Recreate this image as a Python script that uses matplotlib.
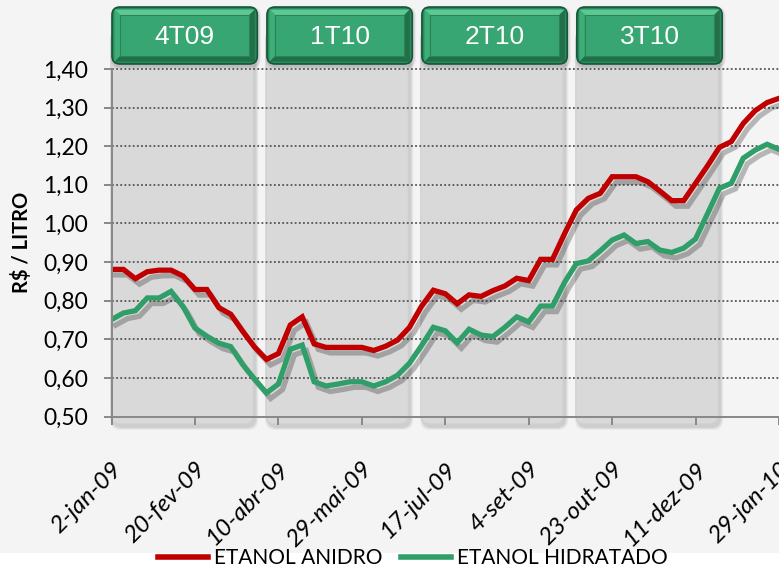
import matplotlib.pyplot as plt
import matplotlib.patheffects as pe
from matplotlib.patches import FancyBboxPatch, Polygon
from matplotlib.transforms import IdentityTransform, ScaledTranslation
from matplotlib.lines import Line2D
import numpy as np

plt.rcParams['font.family'] = ['Lato', 'DejaVu Sans']

# weekly prices, 2-jan-09 .. 29-jan-10 (R$/litro)
anidro = [0.881, 0.881, 0.857, 0.875, 0.879, 0.879, 0.864, 0.829, 0.829, 0.782,
          0.765, 0.721, 0.680, 0.648, 0.663, 0.737, 0.758, 0.688, 0.679, 0.679,
          0.679, 0.679, 0.671, 0.682, 0.698, 0.731, 0.785, 0.827, 0.818, 0.792,
          0.815, 0.811, 0.826, 0.838, 0.858, 0.852, 0.907, 0.907, 0.973, 1.035,
          1.065, 1.078, 1.121, 1.121, 1.121, 1.108, 1.084, 1.059, 1.059, 1.104,
          1.149, 1.197, 1.212, 1.259, 1.292, 1.313, 1.324]
hidratado = [0.751, 0.768, 0.774, 0.807, 0.807, 0.824, 0.785, 0.729, 0.708, 0.690,
             0.681, 0.635, 0.597, 0.561, 0.584, 0.674, 0.685, 0.590, 0.579, 0.584,
             0.590, 0.590, 0.579, 0.590, 0.607, 0.638, 0.683, 0.731, 0.722, 0.691,
             0.726, 0.711, 0.707, 0.731, 0.758, 0.745, 0.786, 0.786, 0.847, 0.896,
             0.903, 0.929, 0.957, 0.970, 0.948, 0.953, 0.931, 0.925, 0.936, 0.960,
             1.025, 1.091, 1.104, 1.169, 1.190, 1.205, 1.192]
tick_labels = ['2-jan-09', '20-fev-09', '10-abr-09', '29-mai-09', '17-jul-09',
               '4-set-09', '23-out-09', '11-dez-09', '29-jan-10']
quarters = ['4T09', '1T10', '2T10', '3T10']

W, H = 779, 576
RED = '#c00000'
GREEN = '#2f9e68'

fig = plt.figure(figsize=(W / 100, H / 100), dpi=100)
fig.patch.set_facecolor('white')
fig.add_artist(plt.Rectangle((0, 23 / H), 1, 1, transform=fig.transFigure,
                             fc='#f4f4f4', ec='none', zorder=-20))

ax = fig.add_axes([111.5 / W, 1 - 416.5 / H, (W - 111.5) / W, (416.5 - 69) / H])
ax.set_facecolor('none')
weeks = np.arange(len(anidro))
ax.set_xlim(0, len(anidro) - 1)
ax.set_ylim(0.5, 1.4)

px = IdentityTransform()


def to_px(x, y):
    return ax.transData.transform((x, y))


# quarter panels + green header boxes
for k, q in enumerate(quarters):
    x0 = to_px(13 * k, 1)[0] - 0.5
    x1 = to_px(13 * k + 11.9, 1)[0]
    y0, y1 = H - 424, H - 30
    for s, a in [(6, 0.04), (4, 0.05), (2, 0.07)]:
        fig.add_artist(FancyBboxPatch((x0 + 2 - s / 2, y0 - 3 - s / 2), x1 - x0 + s, y1 - y0 + s,
                                      boxstyle='round,pad=0,rounding_size=10', transform=px,
                                      fc='black', ec='none', alpha=a, zorder=-12))
    fig.add_artist(FancyBboxPatch((x0, y0), x1 - x0, y1 - y0,
                                  boxstyle='round,pad=0,rounding_size=9', transform=px,
                                  fc='#d9d9d9', ec='#cfcfcf', lw=0.8, zorder=-10))

    bx0, bx1 = x0 + 1, x1 + 4
    by0, by1 = H - 64, H - 7
    d = 8
    for s, a in [(5, 0.05), (3, 0.08)]:
        fig.add_artist(FancyBboxPatch((bx0 + 1 - s / 2, by0 - 2 - s / 2), bx1 - bx0 + s, by1 - by0 + s,
                                      boxstyle='round,pad=0,rounding_size=9', transform=px,
                                      fc='black', ec='none', alpha=a, zorder=-9))
    fig.add_artist(FancyBboxPatch((bx0, by0), bx1 - bx0, by1 - by0,
                                  boxstyle='round,pad=0,rounding_size=8', transform=px,
                                  fc='#2a8a5b', ec='#16553a', lw=1.2, zorder=-8))
    o = 2.5
    bands = [
        ([(bx0 + o, by1 - o), (bx1 - o, by1 - o), (bx1 - d, by1 - d), (bx0 + d, by1 - d)], '#5cc893'),
        ([(bx0 + o, by0 + o), (bx1 - o, by0 + o), (bx1 - d, by0 + d), (bx0 + d, by0 + d)], '#1f6f48'),
        ([(bx0 + o, by0 + o), (bx0 + d, by0 + d), (bx0 + d, by1 - d), (bx0 + o, by1 - o)], '#3dae78'),
        ([(bx1 - o, by0 + o), (bx1 - d, by0 + d), (bx1 - d, by1 - d), (bx1 - o, by1 - o)], '#226f4a'),
    ]
    for pts, c in bands:
        fig.add_artist(Polygon(pts, closed=True, transform=px, fc=c, ec='none', zorder=-7))
    fig.add_artist(plt.Rectangle((bx0 + d, by0 + d), bx1 - bx0 - 2 * d, by1 - by0 - 2 * d,
                                 transform=px, fc='#38a672', ec='#2b8458', lw=0.8, zorder=-6))
    fig.text((bx0 + bx1) / 2 / W, (by0 + by1) / 2 / H - 0.002, q, color='white',
             fontsize=19, family='Liberation Sans', ha='center', va='center')

# grid
ax.set_yticks(np.arange(0.5, 1.41, 0.1))
ax.set_yticklabels([f'{v:.2f}'.replace('.', ',') for v in np.arange(0.5, 1.41, 0.1)])
for v in np.arange(0.6, 1.41, 0.1):
    ax.axhline(v, color='#555555', lw=1.3, ls=(0, (1, 1.3)), zorder=1, clip_on=False)

shadow = [pe.SimpleLineShadow(offset=(3, -4), shadow_color='black', alpha=0.25), pe.Normal()]
ax.plot(weeks, anidro, color=RED, lw=3.8, solid_joinstyle='miter', path_effects=shadow, zorder=3)
ax.plot(weeks, hidratado, color=GREEN, lw=3.8, solid_joinstyle='miter', path_effects=shadow, zorder=3)

for side in ['top', 'right']:
    ax.spines[side].set_visible(False)
for side in ['left', 'bottom']:
    ax.spines[side].set_color('#888888')
    ax.spines[side].set_linewidth(1.4)
    ax.spines[side].set_zorder(4)

ax.set_xticks(weeks[::7])
ax.set_xticklabels(tick_labels, rotation=45, ha='right', va='top', rotation_mode='anchor',
                   fontstyle='italic', fontsize=17.5)
for lbl in ax.get_xticklabels():
    lbl.set_transform(lbl.get_transform() + ScaledTranslation(4 / 100, 0, fig.dpi_scale_trans))
ax.tick_params(axis='x', length=6, width=1.4, color='#888888', pad=24)
ax.tick_params(axis='y', length=6, width=1.4, color='#888888', pad=11, labelsize=16.5)

ax.set_ylabel('R$ / LITRO', fontsize=14.5, fontweight='bold')
ax.yaxis.set_label_coords((32 - 111.5) / (W - 111.5), 0.5)

handles = [Line2D([], [], color=RED, lw=4), Line2D([], [], color=GREEN, lw=4)]
ax.legend(handles, ['ETANOL ANIDRO', 'ETANOL HIDRATADO'], loc='center', ncol=2,
          bbox_to_anchor=(0.53, 18 / H), bbox_transform=fig.transFigure, frameon=False,
          fontsize=15, handlelength=2.4, handletextpad=0.3, columnspacing=0.9)

fig.savefig('out.png', dpi=100)
